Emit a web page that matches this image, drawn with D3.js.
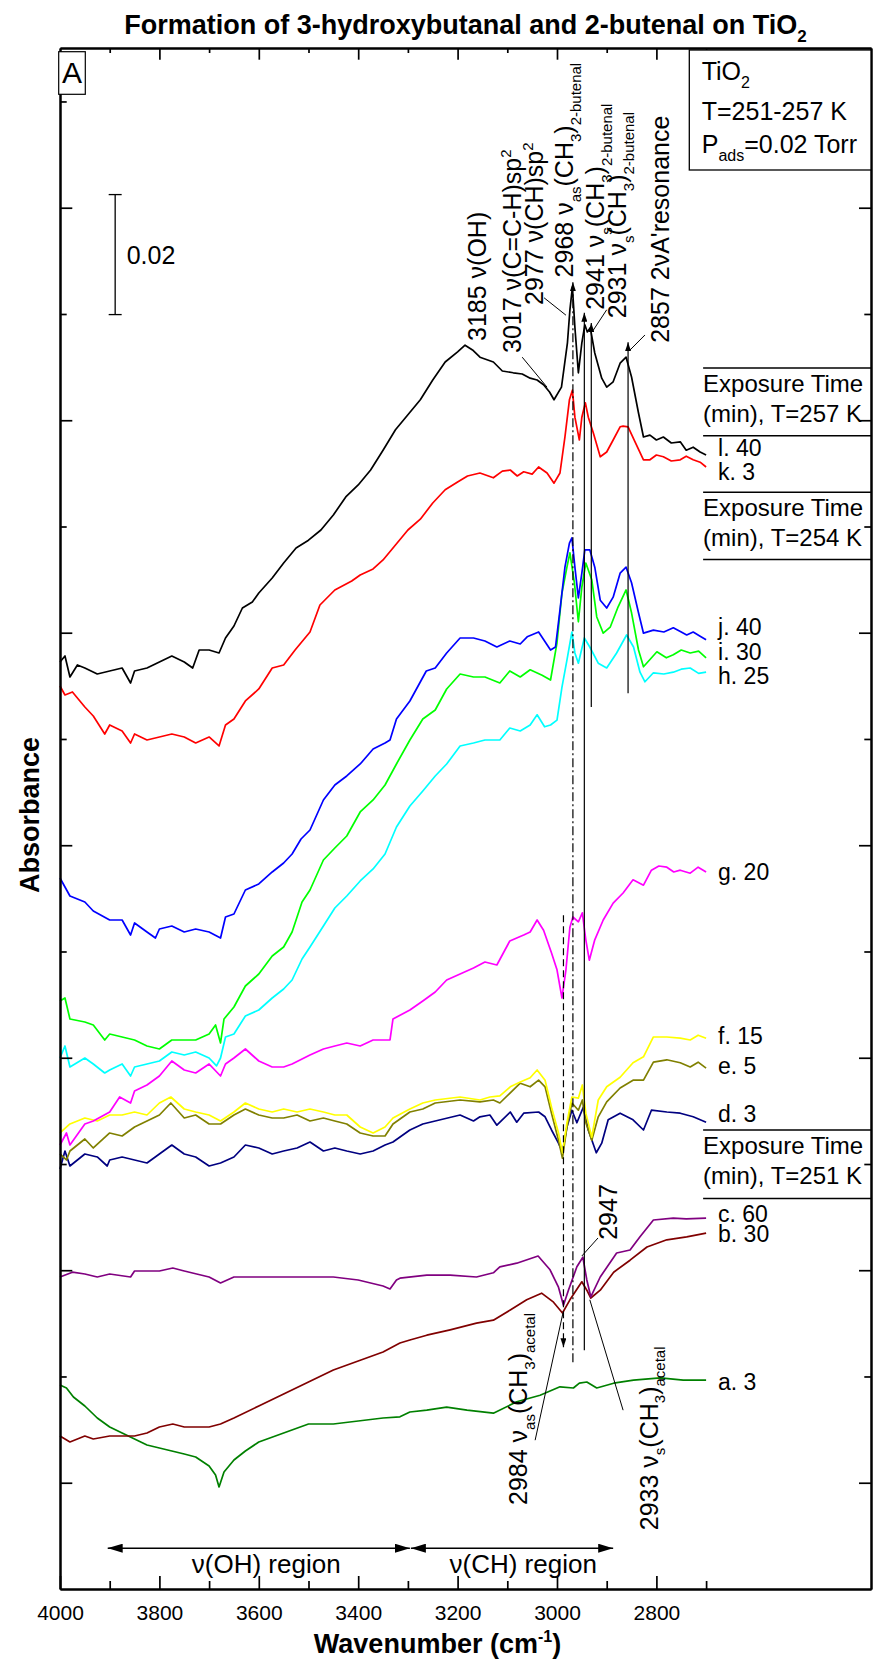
<!DOCTYPE html>
<html><head><meta charset="utf-8">
<script src="https://cdn.jsdelivr.net/npm/d3@7"></script>
<style>body{margin:0;background:#fff}</style>
</head><body>
<svg id="chart" width="874" height="1660"></svg>
<script>
// ---------------- DATA (wavenumber cm-1, absorbance in mAbs, spectra offset as displayed) ----------------
const l40 = [[4000,154.5],[3990,155.5],[3980,152.0],[3965,154.0],[3950,153.5],[3925,152.5],[3900,153.0],[3875,153.5],[3858,151.0],[3850,153.0],[3825,153.5],[3800,154.5],[3775,155.5],[3750,154.5],[3733,153.5],[3720,156.5],[3700,156.5],[3680,156.0],[3667,158.5],[3650,160.5],[3633,163.5],[3613,164.5],[3600,166.0],[3573,168.5],[3550,171.0],[3525,173.5],[3500,174.8],[3475,176.5],[3450,179.0],[3425,182.0],[3400,184.0],[3375,186.5],[3350,189.8],[3325,193.2],[3300,195.7],[3275,198.2],[3250,201.5],[3225,204.5],[3200,206.2],[3185,207.3],[3170,206.5],[3155,205.3],[3128,204.5],[3110,203.0],[3088,202.7],[3070,202.5],[3054,201.8],[3040,201.5],[3027,200.7],[3015,199.5],[3006,198.2],[2991,200.3],[2979,207.7],[2974,213.2],[2969,217.0],[2964,210.3],[2957,202.7],[2950,207.7],[2944,210.7],[2939,209.5],[2933,210.2],[2924,206.0],[2910,201.8],[2900,200.3],[2887,201.2],[2873,204.3],[2861,205.3],[2850,202.0],[2836,196.0],[2826,192.0],[2813,192.3],[2800,191.5],[2786,192.0],[2770,191.0],[2752,191.2],[2740,189.8],[2726,190.3],[2712,189.5],[2700,189.0]];
const k3 = [[4000,150.5],[3990,149.0],[3975,149.5],[3950,147.0],[3933,145.5],[3910,142.5],[3900,144.0],[3875,143.0],[3858,141.0],[3850,142.5],[3825,141.5],[3800,142.0],[3775,142.5],[3750,142.0],[3727,141.0],[3700,142.0],[3680,140.5],[3667,144.0],[3650,145.0],[3627,148.0],[3600,150.0],[3573,153.5],[3550,154.0],[3527,156.5],[3497,159.5],[3477,164.0],[3447,166.5],[3413,168.0],[3396,169.0],[3370,170.0],[3350,171.5],[3325,174.0],[3300,176.5],[3275,178.3],[3250,181.0],[3225,183.2],[3200,184.5],[3180,185.5],[3155,186.0],[3128,185.2],[3110,186.3],[3094,186.5],[3080,185.5],[3067,186.2],[3050,185.8],[3037,187.0],[3020,186.0],[3006,184.3],[2994,186.0],[2984,192.0],[2975,198.2],[2969,199.8],[2964,195.3],[2955,191.5],[2950,195.3],[2943,197.7],[2937,195.3],[2927,192.7],[2913,188.7],[2900,189.5],[2887,191.5],[2873,193.7],[2867,193.8],[2857,193.7],[2843,191.2],[2826,188.2],[2813,188.2],[2800,189.0],[2786,188.7],[2770,188.0],[2752,188.2],[2740,188.8],[2726,188.2],[2712,187.8],[2700,187.0]];
const j40 = [[4000,118.5],[3990,117.0],[3980,115.5],[3950,114.5],[3933,113.0],[3900,111.5],[3875,111.5],[3858,109.0],[3850,111.0],[3825,109.5],[3808,108.5],[3800,110.0],[3775,110.5],[3750,109.5],[3727,110.0],[3700,109.5],[3677,108.5],[3667,112.0],[3650,112.5],[3627,116.5],[3600,117.5],[3573,119.5],[3550,121.0],[3533,122.5],[3515,125.0],[3497,126.5],[3470,131.5],[3447,134.0],[3423,135.5],[3396,137.5],[3370,140.0],[3346,141.0],[3336,141.5],[3323,145.0],[3296,148.0],[3263,153.0],[3245,153.5],[3222,156.0],[3195,158.5],[3168,158.5],[3145,158.0],[3121,157.0],[3095,158.0],[3074,157.5],[3060,158.7],[3037,159.5],[3013,156.5],[3003,157.0],[2994,163.2],[2984,170.3],[2975,174.3],[2970,175.2],[2964,170.3],[2957,165.2],[2950,169.3],[2944,173.2],[2934,173.2],[2924,170.3],[2913,164.8],[2900,163.5],[2887,165.3],[2873,169.3],[2861,170.3],[2850,167.7],[2836,162.7],[2826,159.3],[2806,159.8],[2785,159.5],[2766,160.2],[2750,159.5],[2739,159.0],[2726,159.5],[2712,158.8],[2700,158.2]];
const i30 = [[4000,98.0],[3990,98.5],[3980,95.0],[3950,94.5],[3933,94.0],[3910,91.5],[3900,92.5],[3875,92.0],[3850,91.5],[3825,90.5],[3800,90.0],[3775,91.5],[3750,91.5],[3727,91.5],[3700,92.5],[3687,94.0],[3677,91.0],[3670,95.0],[3650,97.0],[3627,100.5],[3600,102.5],[3573,105.5],[3550,107.0],[3533,109.5],[3513,114.5],[3497,116.5],[3470,121.5],[3447,123.5],[3423,125.5],[3396,129.5],[3370,131.5],[3346,134.0],[3323,137.5],[3296,141.5],[3270,145.0],[3245,146.5],[3222,150.0],[3195,152.5],[3168,152.0],[3145,152.0],[3115,151.0],[3095,153.0],[3074,152.0],[3054,153.2],[3030,152.3],[3013,151.5],[3000,157.7],[2990,166.0],[2980,170.3],[2974,172.7],[2965,167.7],[2957,161.2],[2950,167.0],[2942,171.0],[2930,168.2],[2920,162.0],[2907,159.3],[2893,160.3],[2877,163.7],[2861,166.5],[2850,162.7],[2836,156.5],[2826,153.7],[2812,155.0],[2799,156.2],[2780,155.2],[2766,155.7],[2750,156.5],[2732,156.0],[2715,156.3],[2700,155.2]];
const h25 = [[4000,88.5],[3990,90.5],[3980,87.0],[3950,88.5],[3933,87.5],[3910,86.0],[3900,86.5],[3875,87.5],[3858,85.5],[3850,87.0],[3825,87.5],[3800,88.0],[3775,89.5],[3750,89.0],[3727,89.5],[3700,88.5],[3685,87.2],[3677,88.5],[3667,92.0],[3650,92.5],[3627,95.5],[3600,96.5],[3573,98.5],[3550,100.0],[3533,101.5],[3513,105.0],[3497,107.0],[3470,110.5],[3447,113.5],[3423,115.5],[3396,118.0],[3370,120.0],[3346,122.5],[3323,127.0],[3296,130.5],[3270,133.0],[3245,135.5],[3222,137.5],[3195,140.5],[3168,141.0],[3145,141.5],[3115,141.5],[3095,143.5],[3074,143.0],[3054,144.0],[3040,145.7],[3025,143.7],[3013,144.0],[3000,144.8],[2990,150.3],[2980,154.8],[2970,159.5],[2964,156.0],[2957,154.3],[2945,158.5],[2934,157.0],[2917,154.3],[2900,153.5],[2880,156.0],[2860,159.0],[2846,157.0],[2833,152.8],[2823,151.2],[2806,152.7],[2785,152.5],[2766,152.8],[2750,153.3],[2732,153.5],[2715,152.6],[2700,152.8]];
const g20 = [[4000,74.0],[3987,76.0],[3980,74.0],[3950,77.5],[3933,78.0],[3900,79.5],[3880,82.0],[3858,81.0],[3850,83.0],[3825,84.0],[3800,85.5],[3775,88.0],[3750,86.5],[3727,86.0],[3700,87.5],[3677,85.5],[3667,87.5],[3650,88.5],[3627,90.0],[3600,88.0],[3573,87.0],[3550,87.0],[3533,87.5],[3497,89.0],[3470,90.0],[3447,90.5],[3423,91.0],[3396,90.5],[3370,91.5],[3346,91.5],[3336,91.5],[3330,95.0],[3296,96.5],[3270,98.0],[3245,99.5],[3222,101.5],[3195,102.5],[3168,103.5],[3145,104.5],[3121,104.0],[3095,108.0],[3067,109.0],[3054,109.5],[3040,111.5],[3027,109.8],[3011,106.0],[3000,103.2],[2990,98.5],[2982,103.2],[2974,110.3],[2968,112.0],[2957,111.2],[2949,112.7],[2942,108.2],[2935,104.8],[2924,108.2],[2907,111.5],[2887,114.3],[2867,116.0],[2847,118.2],[2826,117.3],[2810,119.8],[2795,120.5],[2779,120.3],[2765,119.5],[2752,119.8],[2732,119.3],[2716,120.3],[2700,119.5]];
const f15 = [[4000,76.0],[3980,77.5],[3950,78.5],[3925,78.0],[3900,79.0],[3875,79.0],[3850,79.5],[3825,79.0],[3800,81.0],[3777,82.0],[3750,80.0],[3727,79.5],[3700,79.0],[3677,78.0],[3650,79.5],[3627,81.0],[3600,80.0],[3573,79.5],[3550,80.0],[3523,79.5],[3497,80.0],[3470,79.5],[3447,79.0],[3423,79.0],[3396,77.0],[3370,76.0],[3346,77.0],[3330,78.5],[3296,80.0],[3270,81.0],[3245,81.5],[3195,82.0],[3155,81.5],[3135,82.0],[3115,82.2],[3094,83.7],[3074,84.5],[3054,85.2],[3040,86.5],[3024,84.8],[3011,80.3],[2997,76.0],[2989,72.7],[2980,77.7],[2970,82.0],[2957,81.8],[2949,84.0],[2942,79.3],[2930,75.3],[2917,81.5],[2900,83.7],[2873,85.3],[2847,87.7],[2826,88.7],[2806,92.0],[2779,92.0],[2752,91.8],[2732,91.5],[2716,92.3],[2700,91.8]];
const e5 = [[4000,72.5],[3987,71.5],[3980,73.0],[3950,75.0],[3933,73.5],[3900,76.0],[3875,75.5],[3850,77.0],[3825,78.0],[3800,79.0],[3777,81.0],[3750,78.5],[3727,79.0],[3700,77.5],[3677,77.5],[3650,79.0],[3627,80.0],[3600,79.0],[3573,78.5],[3550,78.5],[3523,79.0],[3497,78.0],[3470,78.5],[3447,78.0],[3423,77.5],[3396,76.0],[3370,75.5],[3346,75.5],[3330,77.5],[3296,79.5],[3270,80.0],[3245,81.0],[3195,81.5],[3155,81.2],[3128,81.5],[3115,81.0],[3094,82.7],[3074,84.3],[3054,83.7],[3037,84.8],[3024,83.7],[3011,79.3],[2997,74.8],[2989,71.8],[2980,77.0],[2970,81.0],[2957,79.8],[2949,81.5],[2942,77.7],[2930,74.8],[2917,78.7],[2900,81.2],[2873,83.5],[2847,84.8],[2826,84.8],[2806,87.8],[2779,88.2],[2752,87.7],[2732,87.0],[2716,87.8],[2700,86.8]];
const d3s = [[4000,70.0],[3990,73.0],[3980,70.5],[3950,72.5],[3925,72.0],[3905,70.5],[3900,71.5],[3875,72.0],[3850,71.5],[3825,71.0],[3800,72.5],[3775,74.0],[3750,72.5],[3727,72.0],[3700,70.5],[3677,71.0],[3650,72.0],[3627,74.0],[3600,73.5],[3573,72.5],[3550,73.0],[3523,73.5],[3497,74.5],[3470,73.0],[3447,73.5],[3423,73.0],[3396,72.5],[3370,73.0],[3346,74.0],[3330,74.5],[3296,76.5],[3270,77.5],[3245,78.0],[3195,79.0],[3168,78.0],[3155,78.7],[3135,79.0],[3121,77.3],[3094,79.5],[3081,77.8],[3067,79.3],[3037,79.5],[3024,78.7],[3011,76.5],[2997,74.3],[2989,72.8],[2980,77.0],[2970,79.8],[2960,77.7],[2947,80.3],[2937,76.5],[2921,72.7],[2910,74.3],[2897,78.2],[2873,79.3],[2847,78.2],[2826,76.5],[2810,79.8],[2779,79.5],[2752,79.3],[2726,78.7],[2700,77.8]];
const c60 = [[4000,52.0],[3975,52.8],[3950,52.5],[3925,52.0],[3900,52.5],[3858,52.0],[3850,53.0],[3800,53.0],[3773,53.5],[3750,53.0],[3700,52.0],[3677,51.0],[3650,52.0],[3600,52.0],[3550,52.0],[3500,52.0],[3450,52.0],[3400,51.5],[3350,50.5],[3336,50.0],[3323,51.5],[3316,51.8],[3262,52.3],[3215,52.3],[3162,52.0],[3128,52.7],[3115,53.7],[3081,54.3],[3038,55.5],[3014,53.2],[2997,50.3],[2987,47.3],[2977,49.8],[2960,53.7],[2948,55.3],[2940,51.5],[2932,48.7],[2913,52.0],[2880,56.0],[2853,56.5],[2833,58.7],[2806,61.5],[2766,61.8],[2740,61.7],[2700,61.8]];
const b30 = [[4000,25.5],[3980,24.5],[3950,25.5],[3933,25.0],[3900,25.5],[3850,25.5],[3825,26.0],[3800,27.0],[3773,27.5],[3750,27.0],[3700,27.0],[3677,27.5],[3650,28.5],[3600,30.5],[3550,32.5],[3500,34.5],[3450,36.5],[3400,38.0],[3350,39.5],[3316,41.0],[3296,41.5],[3262,42.3],[3215,43.2],[3162,44.3],[3128,44.8],[3094,46.5],[3061,48.2],[3031,49.3],[3007,47.8],[2989,46.0],[2974,48.2],[2950,51.2],[2940,49.8],[2932,48.5],[2913,49.8],[2886,52.8],[2853,54.8],[2819,57.0],[2779,58.2],[2739,58.7],[2700,59.3]];
const a3 = [[4000,34.0],[3987,33.5],[3973,32.0],[3950,30.5],[3925,28.5],[3900,27.0],[3875,26.0],[3850,25.0],[3825,24.0],[3800,23.5],[3775,23.0],[3750,22.5],[3727,22.0],[3700,20.5],[3687,19.0],[3680,17.0],[3670,19.5],[3650,21.5],[3627,23.0],[3600,24.5],[3550,26.0],[3500,27.5],[3450,27.5],[3400,28.0],[3350,28.5],[3316,28.7],[3296,29.5],[3262,29.8],[3222,30.3],[3181,29.8],[3128,29.3],[3081,31.2],[3034,32.3],[2994,33.7],[2967,33.5],[2955,34.3],[2940,34.5],[2920,33.5],[2886,34.3],[2846,34.8],[2792,35.2],[2746,34.8],[2700,34.8]];

const seriesData   = [a3, b30, c60, d3s, e5, f15, g20, h25, i30, j40, k3, l40];
const seriesNames  = ["a. 3","b. 30","c. 60","d. 3","e. 5","f. 15","g. 20","h. 25","i. 30","j. 40","k. 3","l. 40"];
const seriesColors = ["#008000","#800000","#800080","#000080","#808000","#ffff00","#ff00ff","#00ffff","#00ff00","#0000ff","#ff0000","#000000"];
const seriesLabelAt = [33.2,57.9,61.2,77.9,85.9,90.9,118.2,150.9,154.8,159.0,184.8,188.8]; // mAbs of label baselines

const xMajorTicks = [4000,3800,3600,3400,3200,3000,2800];
const xMinorTicks = [3900,3700,3500,3300,3100,2900,2700];
const yMajorTicks = [17.71,53.13,88.54,123.96,159.38,194.79,230.21];
const yMinorTicks = [35.42,70.83,106.25,141.67,177.08,212.5,247.92];

// peak assignment annotations (wavenumber of baseline, absorbance of text start)
const peakLabels = [
  {wn:3143, v:208.0, parts:["3185 ν(OH)"]},
  {wn:3072, v:206.0, parts:["3017 ν(C=C-H)sp",["2","sup"]]},
  {wn:3028, v:214.0, parts:["2977 ν(CH)sp",["2","sup"]]},
  {wn:2967, v:218.6, parts:["2968 ν",["as","sub"],"(CH",["3","sub"],")",["2-butenal","sub"]]},
  {wn:2905, v:213.2, parts:["2941 ν",["s","sub"],"(CH",["3","sub"],")",["2-butenal","sub"]]},
  {wn:2861, v:211.8, parts:["2931 ν",["s","sub"],"(CH",["3","sub"],")",["2-butenal","sub"]]},
  {wn:2775, v:207.7, parts:["2857 2νA'resonance"]},
  {wn:3060, v:14.0, parts:["2984 ν",["as","sub"],"(CH",["3","sub"],")",["acetal","sub"]]},
  {wn:2797, v:9.8, parts:["2933 ν",["s","sub"],"(CH",["3","sub"],")",["acetal","sub"]]},
  {wn:2879, v:58.2, parts:["2947"]}
];
const leaderLines = [
  [[3070,205.3],[3020,200.3]],
  [[3026,215.2],[2982,212.3]],
  [[2900,213.2],[2927,209.8]],
  [[2823,209.0],[2853,206.5]],
  [[3044,24.8],[2988,46.0]],
  [[2867,29.8],[2934,48.2]],
  [[2917.5,58.5],[2950,55.5]]
];
const markerLines = [
  {wn:2968, from:37.8, to:217.8, dash:"9,3,2,3"},
  {wn:2945, from:39.8, to:212.7, dash:null},
  {wn:2931, from:147.0, to:211.0, dash:null},
  {wn:2857, from:149.3, to:207.8, dash:null},
  {wn:2987, from:112.3, to:40.3, dash:"7,4"}
];
const regions = [
  {from:3904, to:3296, label:"ν(OH) region", at:3585},
  {from:3294, to:2887, label:"ν(CH) region", at:3068}
];
const headerBoxes = [ {temp:"257", top:203.5, bottom:192.2}, {temp:"254", top:182.8, bottom:171.6}, {temp:"251", top:76.5, bottom:65.1} ];
const scaleBar = {wn:3889, from:212.4, value:20, label:"0.02"};

// ---------------- DRAWING ----------------
const FONT = "'Liberation Sans', Arial, Helvetica, sans-serif";
const svg = d3.select("#chart").style("font-family", FONT);
svg.append("rect").attr("width",874).attr("height",1660).attr("fill","#fff");

const x = d3.scaleLinear().domain([4000, 2368.2]).range([60, 871]);
const y = d3.scaleLinear().domain([0, 256.83]).range([1589, 48]);

const defs = svg.append("defs");
defs.append("clipPath").attr("id","clipR").append("rect").attr("x",0).attr("y",0).attr("width",871).attr("height",1660);
function mk(id, w, h){
  defs.append("marker").attr("id",id).attr("viewBox",`0 0 ${w} ${h}`).attr("refX",w).attr("refY",h/2)
    .attr("markerWidth",w).attr("markerHeight",h).attr("markerUnits","userSpaceOnUse").attr("orient","auto-start-reverse")
    .append("path").attr("d",`M0,0L${w},${h/2}L0,${h}Z`).attr("fill","#000");
}
mk("arr",9,6); mk("arrBig",15,9);

function rich(sel, parts, size, sub){
  const t = sel.append("text").attr("font-size", size).attr("fill","#000");
  let shift = 0;
  parts.forEach(p => {
    const [s,k] = Array.isArray(p) ? p : [p,null];
    const target = k==="sub" ? 0.3*size : k==="sup" ? -0.42*size : 0;
    t.append("tspan").attr("dy", target-shift).attr("font-size", k ? sub : size).text(s);
    shift = target;
  });
  return t;
}

// spectra
const line = d3.line().x(d=>x(d[0])).y(d=>y(d[1]));
seriesData.forEach((d,i)=>{
  svg.append("path").attr("d", line(d)).attr("fill","none").attr("stroke", seriesColors[i])
    .attr("stroke-width",1.7).attr("stroke-linejoin","round");
});

// series end labels
seriesNames.forEach((n,i)=>{
  svg.append("text").attr("x", x(2676)).attr("y", y(seriesLabelAt[i])).attr("font-size",23).text(n);
});

// marker lines
markerLines.forEach(m=>{
  svg.append("line").attr("x1",x(m.wn)).attr("x2",x(m.wn)).attr("y1",y(m.from)).attr("y2",y(m.to))
    .attr("stroke","#000").attr("stroke-width",1.2).attr("stroke-dasharray", m.dash)
    .attr("marker-end","url(#arr)");
});
leaderLines.forEach(l=>{
  svg.append("line").attr("x1",x(l[0][0])).attr("y1",y(l[0][1])).attr("x2",x(l[1][0])).attr("y2",y(l[1][1]))
    .attr("stroke","#000").attr("stroke-width",1);
});
peakLabels.forEach(p=>{
  const g = svg.append("g").attr("transform",`translate(${x(p.wn)},${y(p.v)}) rotate(-90)`);
  rich(g, p.parts, 25, 15);
});

// region arrows
regions.forEach(r=>{
  svg.append("line").attr("x1",x(r.from)).attr("x2",x(r.to)).attr("y1",y(6.8)).attr("y2",y(6.8))
    .attr("stroke","#000").attr("stroke-width",1.5).attr("marker-start","url(#arrBig)").attr("marker-end","url(#arrBig)");
  svg.append("text").attr("x",x(r.at)).attr("y",y(2.7)).attr("text-anchor","middle").attr("font-size",26).text(r.label);
});

// header boxes (exposure time)
headerBoxes.forEach(h=>{
  const g = svg.append("g").attr("clip-path","url(#clipR)");
  [h.top,h.bottom].forEach(v=>g.append("line").attr("x1",x(2706)).attr("x2",871).attr("y1",y(v)).attr("y2",y(v)).attr("stroke","#000").attr("stroke-width",1.5));
  g.append("text").attr("x",x(2706)).attr("y",y(h.top)+24).attr("font-size",24).text("Exposure Time");
  g.append("text").attr("x",x(2706)).attr("y",y(h.top)+54).attr("font-size",24).text(`(min), T=${h.temp} K`);
});

// scale bar
const sbx = x(scaleBar.wn), sb0 = y(scaleBar.from), sb1 = y(scaleBar.from+scaleBar.value);
svg.append("line").attr("x1",sbx).attr("x2",sbx).attr("y1",sb0).attr("y2",sb1).attr("stroke","#000").attr("stroke-width",1.3);
[sb0,sb1].forEach(v=>svg.append("line").attr("x1",sbx-6.5).attr("x2",sbx+6.5).attr("y1",v).attr("y2",v).attr("stroke","#000").attr("stroke-width",1.3));
svg.append("text").attr("x",sbx+11.5).attr("y",(sb0+sb1)/2+9).attr("font-size",25).text(scaleBar.label);

// axes
function styleAxis(g){ g.selectAll("path.domain").attr("stroke","#000").attr("stroke-width",2);
  g.selectAll(".tick line").attr("stroke","#000").attr("stroke-width",1.7); }
svg.append("g").attr("transform","translate(0,1589)")
  .call(d3.axisBottom(x).tickValues(xMajorTicks).tickSize(-13).tickSizeOuter(0).tickPadding(16).tickFormat(d3.format("d")))
  .call(styleAxis).call(g=>g.selectAll("text").attr("font-size",21).attr("font-family",FONT).attr("fill","#000"));
svg.append("g").attr("transform","translate(0,1589)")
  .call(d3.axisBottom(x).tickValues(xMinorTicks).tickSize(-8).tickSizeOuter(0).tickFormat(""))
  .call(styleAxis);
svg.append("g").attr("transform","translate(0,48)")
  .call(d3.axisTop(x).tickValues(xMajorTicks.slice(1)).tickSize(-11.7).tickSizeOuter(0).tickFormat(""))
  .call(styleAxis);
svg.append("g").attr("transform","translate(0,48)")
  .call(d3.axisTop(x).tickValues(xMinorTicks).tickSize(-5).tickSizeOuter(0).tickFormat(""))
  .call(styleAxis);
svg.append("g").attr("transform","translate(60,0)")
  .call(d3.axisLeft(y).tickValues(yMajorTicks).tickSize(-12.3).tickSizeOuter(0).tickFormat("")).call(styleAxis);
svg.append("g").attr("transform","translate(60,0)")
  .call(d3.axisLeft(y).tickValues(yMinorTicks).tickSize(-6.7).tickSizeOuter(0).tickFormat("")).call(styleAxis);
svg.append("g").attr("transform","translate(871,0)")
  .call(d3.axisRight(y).tickValues(yMajorTicks).tickSize(-12).tickSizeOuter(0).tickFormat("")).call(styleAxis);
svg.append("g").attr("transform","translate(871,0)")
  .call(d3.axisRight(y).tickValues(yMinorTicks).tickSize(-6.7).tickSizeOuter(0).tickFormat("")).call(styleAxis);

// info box
const ib = svg.append("g");
ib.append("rect").attr("x",689.3).attr("y",50).attr("width",181.7).attr("height",120).attr("fill","#fff").attr("stroke","#000").attr("stroke-width",1.3);
rich(ib.append("g").attr("transform","translate(701.7,80)"), ["TiO",["2","sub"]], 25, 16);
rich(ib.append("g").attr("transform","translate(701.7,120)"), ["T=251-257 K"], 25, 16);
rich(ib.append("g").attr("transform","translate(701.7,153)"), ["P",["ads","sub"],"=0.02 Torr"], 25, 16);

// panel letter
svg.append("rect").attr("x",58.7).attr("y",51.7).attr("width",26.6).attr("height",42.6).attr("fill","#fff").attr("stroke","#000").attr("stroke-width",1.2);
svg.append("text").attr("x",72).attr("y",83.3).attr("text-anchor","middle").attr("font-size",30).text("A");

// titles
rich(svg.append("g").attr("transform","translate(465.5,34)"), ["Formation of 3-hydroxybutanal and 2-butenal on TiO",["2","sub"]], 27, 17)
  .attr("text-anchor","middle").attr("font-weight","bold");
rich(svg.append("g").attr("transform","translate(437.5,1653)"), ["Wavenumber (cm",["-1","sup"],")"], 27, 16)
  .attr("text-anchor","middle").attr("font-weight","bold");
svg.append("text").attr("transform","translate(39,815) rotate(-90)").attr("text-anchor","middle")
  .attr("font-size",27).attr("font-weight","bold").text("Absorbance");
</script>
</body></html>
